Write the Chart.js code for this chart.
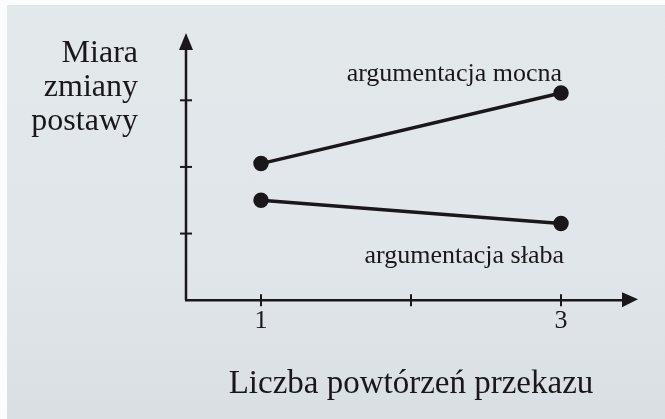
<!DOCTYPE html>
<html>
<head>
<meta charset="utf-8">
<script src="https://cdn.jsdelivr.net/npm/chart.js@4.4.1/dist/chart.umd.min.js"></script>
<style>
  html, body { margin: 0; padding: 0; background: #fbfcfd; }
  #wrap {
    position: absolute; left: 7px; top: 5px; width: 658px; height: 414px;
    background: linear-gradient(180deg, #e3e8eb 0%, #e0e6e9 60%, #d9dfe3 100%);
  }
</style>
</head>
<body>
<div id="wrap"><canvas id="myChart" width="658" height="414"></canvas></div>
<script>
// dane
const powtorzenia = [1, 3];
const mocna = [2.05, 3.11];
const slaba = [1.5, 1.15];
const xTicks = [1, 2, 3];
const xTickLabels = ['1', '', '3'];
const yTicks = [1, 2, 3];
const yTitle = ['Miara', 'zmiany', 'postawy'];
const xTitle = 'Liczba powtórzeń przekazu';
const labelMocna = 'argumentacja mocna';
const labelSlaba = 'argumentacja słaba';

const ink = '#1a171a';
const serif = '"Liberation Serif", "DejaVu Serif", serif';

function toPoints(xs, ys) {
  return xs.map((x, i) => ({ x: x, y: ys[i] }));
}

// osie ze strzałkami, kreski podziałki i podpisy
const axesPlugin = {
  id: 'axes',
  beforeDatasetsDraw(chart) {
    const ctx = chart.ctx;
    const a = chart.chartArea;
    const xs = chart.scales.x;
    const ys = chart.scales.y;
    ctx.save();
    ctx.strokeStyle = ink;
    ctx.fillStyle = ink;
    ctx.lineWidth = 2.5;
    // os y
    ctx.beginPath();
    ctx.moveTo(a.left, a.bottom);
    ctx.lineTo(a.left, a.top + 10);
    ctx.stroke();
    ctx.beginPath();
    ctx.moveTo(a.left, a.top - 4);
    ctx.lineTo(a.left - 7, a.top + 13);
    ctx.lineTo(a.left + 7, a.top + 13);
    ctx.closePath();
    ctx.fill();
    // os x
    ctx.beginPath();
    ctx.moveTo(a.left - 1, a.bottom);
    ctx.lineTo(a.right - 10, a.bottom);
    ctx.stroke();
    ctx.beginPath();
    ctx.moveTo(a.right + 2, a.bottom - 1);
    ctx.lineTo(a.right - 14, a.bottom - 8);
    ctx.lineTo(a.right - 14, a.bottom + 7);
    ctx.closePath();
    ctx.fill();
    // kreski
    ctx.lineWidth = 2;
    yTicks.forEach((v) => {
      const py = ys.getPixelForValue(v);
      ctx.beginPath();
      ctx.moveTo(a.left - 6, py);
      ctx.lineTo(a.left + 6, py);
      ctx.stroke();
    });
    xTicks.forEach((v) => {
      const px = xs.getPixelForValue(v);
      ctx.beginPath();
      ctx.moveTo(px, a.bottom - 6);
      ctx.lineTo(px, a.bottom + 6);
      ctx.stroke();
    });
    // tytul osi y
    ctx.font = '32px ' + serif;
    ctx.textAlign = 'right';
    ctx.textBaseline = 'alphabetic';
    yTitle.forEach((t, i) => {
      ctx.fillText(t, a.left - 48, 57 + i * 34);
    });
    // podpisy linii
    ctx.font = '26px ' + serif;
    const px3 = xs.getPixelForValue(powtorzenia[1]);
    ctx.fillText(labelMocna, px3 + 1, ys.getPixelForValue(mocna[1]) - 12);
    ctx.fillText(labelSlaba, px3 + 3, ys.getPixelForValue(slaba[1]) + 39);
    ctx.restore();
  },
};

const data = {
  datasets: [
    {
      label: labelMocna,
      data: toPoints(powtorzenia, mocna),
      borderColor: ink,
      backgroundColor: ink,
      borderWidth: 3.5,
      pointRadius: 6,
      pointHoverRadius: 6,
    },
    {
      label: labelSlaba,
      data: toPoints(powtorzenia, slaba),
      borderColor: ink,
      backgroundColor: ink,
      borderWidth: 3.5,
      pointRadius: 6,
      pointHoverRadius: 6,
    },
  ],
};

const config = {
  type: 'line',
  data: data,
  options: {
    responsive: false,
    animation: false,
    events: [],
    layout: { padding: { left: 179, right: 29, top: 32, bottom: 15 } },
    plugins: { legend: { display: false }, tooltip: { enabled: false } },
    scales: {
      x: {
        type: 'linear',
        min: 0.5,
        max: 3.5,
        grid: { display: false },
        border: { display: false },
        afterBuildTicks: (scale) => {
          scale.ticks = xTicks.map((v) => ({ value: v }));
        },
        ticks: {
          color: ink,
          font: { family: serif, size: 26 },
          padding: -3,
          maxRotation: 0,
          autoSkip: false,
          callback: (v) => xTickLabels[xTicks.indexOf(v)],
        },
        title: {
          display: true,
          text: xTitle,
          color: ink,
          font: { family: serif, size: 33 },
          padding: { top: 31, bottom: 0 },
        },
      },
      y: {
        display: false,
        min: 0,
        max: 3.95,
      },
    },
  },
  plugins: [axesPlugin],
};

const myChart = new Chart(document.getElementById('myChart'), config);
</script>
</body>
</html>
